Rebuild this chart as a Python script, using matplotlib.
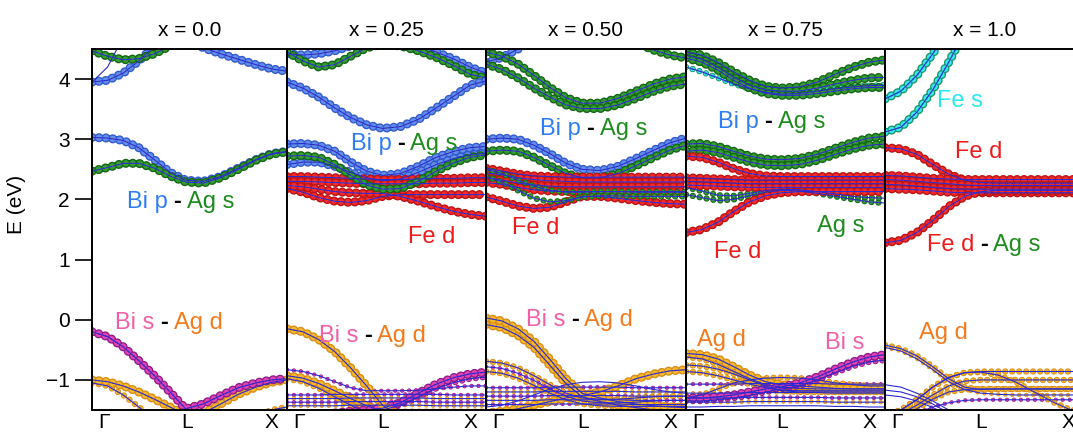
import matplotlib
matplotlib.use('Agg')
import matplotlib.pyplot as plt

plt.rcParams['font.family'] = ['Liberation Sans', 'DejaVu Sans']
plt.rcParams['font.size'] = 15
plt.rcParams['lines.scale_dashes'] = False

# ---------------- data ----------------
TITLES = ["x = 0.0", "x = 0.25", "x = 0.50", "x = 0.75", "x = 1.0"]
K = [0.00, 0.08, 0.16, 0.24, 0.32, 0.40, 0.48, 0.57, 0.66, 0.75, 0.84, 0.92, 1.00]
KPOINT_POS = [0.06, 0.485, 0.92]
KPOINT_LABELS = ["Γ", "L", "X"]
E_TICKS = [-1, 0, 1, 2, 3, 4]

# (orbital, projected weight, energies in eV at K)
BANDS_X000 = [
    ("Bi p", 0.0, [3.95, 4.20, 4.70, 5.30, 5.90, 6.50, 7.00, 7.00, 7.00, 7.00, 7.00, 7.00, 7.00]),
    ("Bi p", 1.0, [3.95, 3.98, 4.10, 4.30, 4.55, 4.80, 4.70, 4.52, 4.42, 4.33, 4.24, 4.17, 4.13]),
    ("Ag s", 1.0, [4.47, 4.38, 4.32, 4.34, 4.42, 4.55, 4.70, 4.80, 4.80, 4.75, 4.70, 4.65, 4.62]),
    ("Bi p", 1.0, [3.03, 3.02, 2.98, 2.86, 2.66, 2.45, 2.32, 2.30, 2.38, 2.52, 2.66, 2.76, 2.80]),
    ("Ag s", 1.0, [2.47, 2.53, 2.60, 2.60, 2.52, 2.39, 2.29, 2.27, 2.36, 2.50, 2.65, 2.75, 2.79]),
    ("Ag d", 0.6, [-1.05, -1.10, -1.25, -1.45, -1.65, -1.85, -2.00, -2.00, -1.90, -1.75, -1.60, -1.50, -1.45]),
    ("Ag d", 1.0, [-1.00, -1.03, -1.10, -1.20, -1.32, -1.45, -1.58, -1.55, -1.40, -1.24, -1.12, -1.04, -1.00]),
    ("Bi s", 1.0, [-0.20, -0.28, -0.45, -0.68, -0.93, -1.20, -1.48, -1.40, -1.26, -1.13, -1.05, -1.00, -0.98]),
]

BANDS_X025 = [
    ("Bi p", 1.0, [4.42, 4.40, 4.42, 4.47, 4.55, 4.62, 4.65, 4.62, 4.55, 4.45, 4.33, 4.20, 4.10]),
    ("Ag s", 1.0, [4.45, 4.30, 4.20, 4.24, 4.38, 4.52, 4.58, 4.55, 4.47, 4.36, 4.22, 4.08, 4.02]),
    ("Bi p", 1.0, [3.95, 3.85, 3.70, 3.52, 3.36, 3.24, 3.18, 3.21, 3.33, 3.52, 3.72, 3.90, 3.97]),
    ("Bi p", 1.0, [2.92, 2.93, 2.90, 2.80, 2.62, 2.47, 2.40, 2.43, 2.55, 2.70, 2.80, 2.86, 2.88]),
    ("Bi p", 1.0, [2.58, 2.62, 2.62, 2.55, 2.45, 2.36, 2.31, 2.34, 2.45, 2.58, 2.68, 2.74, 2.77]),
    ("Fe d", 1.0, [2.38, 2.38, 2.37, 2.36, 2.35, 2.34, 2.33, 2.33, 2.34, 2.35, 2.35, 2.36, 2.36]),
    ("Fe d", 1.0, [2.30, 2.30, 2.29, 2.28, 2.27, 2.26, 2.26, 2.26, 2.26, 2.27, 2.27, 2.28, 2.28]),
    ("Fe d", 1.0, [2.18, 2.12, 2.03, 1.97, 1.95, 1.98, 2.05, 2.08, 2.08, 2.08, 2.08, 2.08, 2.08]),
    ("Fe d", 1.0, [2.23, 2.21, 2.17, 2.13, 2.11, 2.10, 2.10, 2.05, 1.97, 1.88, 1.80, 1.75, 1.72]),
    ("Ag s", 1.0, [2.72, 2.73, 2.70, 2.58, 2.40, 2.24, 2.17, 2.18, 2.30, 2.47, 2.61, 2.70, 2.74]),
    ("Bi s", 0.3, [-1.25, -1.25, -1.25, -1.24, -1.24, -1.24, -1.24, -1.24, -1.24, -1.24, -1.25, -1.25, -1.25]),
    ("Ag d", 0.3, [-1.31, -1.31, -1.31, -1.31, -1.30, -1.30, -1.30, -1.30, -1.30, -1.31, -1.31, -1.31, -1.31]),
    ("Bi s", 0.3, [-1.37, -1.37, -1.37, -1.37, -1.36, -1.36, -1.36, -1.36, -1.36, -1.37, -1.37, -1.37, -1.37]),
    ("Ag d", 0.3, [-1.43, -1.43, -1.43, -1.43, -1.42, -1.42, -1.42, -1.42, -1.42, -1.43, -1.43, -1.43, -1.43]),
    ("Bi s", 0.3, [-0.83, -0.86, -0.93, -1.03, -1.13, -1.18, -1.18, -1.18, -1.17, -1.15, -1.12, -1.10, -1.10]),
    ("Ag d", 0.6, [-0.98, -1.03, -1.14, -1.28, -1.42, -1.55, -1.62, -1.62, -1.62, -1.62, -1.62, -1.62, -1.62]),
    ("Ag d", 1.0, [-0.93, -0.97, -1.06, -1.18, -1.31, -1.43, -1.52, -1.55, -1.55, -1.55, -1.55, -1.55, -1.55]),
    ("Bi s", 0.6, [-1.60, -1.60, -1.58, -1.56, -1.54, -1.52, -1.50, -1.42, -1.28, -1.14, -1.04, -0.98, -0.95]),
    ("Bi s", 1.0, [-1.60, -1.60, -1.58, -1.55, -1.52, -1.50, -1.47, -1.38, -1.22, -1.07, -0.96, -0.90, -0.87]),
    ("Ag d", 1.0, [-0.15, -0.20, -0.33, -0.53, -0.80, -1.10, -1.42, -1.60, -1.70, -1.70, -1.70, -1.70, -1.70]),
]

BANDS_X050 = [
    ("Bi p", 1.0, [4.28, 4.36, 4.50, 4.68, 4.85, 5.00, 5.10, 5.10, 5.10, 5.10, 5.10, 5.10, 5.10]),
    ("Ag s", 1.0, [5.00, 5.00, 5.00, 5.00, 5.00, 5.00, 4.95, 4.85, 4.72, 4.60, 4.48, 4.40, 4.35]),
    ("Ag s", 1.0, [4.45, 4.38, 4.25, 4.06, 3.86, 3.69, 3.60, 3.60, 3.68, 3.80, 3.92, 4.00, 4.04]),
    ("Ag s", 1.0, [4.25, 4.16, 4.02, 3.85, 3.70, 3.57, 3.51, 3.51, 3.57, 3.68, 3.80, 3.88, 3.92]),
    ("Bi p", 1.0, [3.00, 3.02, 3.00, 2.90, 2.76, 2.60, 2.50, 2.48, 2.55, 2.68, 2.82, 2.94, 3.02]),
    ("Ag s", 1.0, [2.80, 2.82, 2.80, 2.70, 2.56, 2.43, 2.36, 2.36, 2.43, 2.56, 2.70, 2.82, 2.90]),
    ("Fe d", 1.0, [2.52, 2.47, 2.42, 2.39, 2.38, 2.37, 2.37, 2.37, 2.37, 2.37, 2.37, 2.37, 2.37]),
    ("Fe d", 1.0, [2.44, 2.41, 2.36, 2.33, 2.31, 2.30, 2.29, 2.29, 2.29, 2.29, 2.29, 2.29, 2.29]),
    ("Fe d", 1.0, [2.36, 2.32, 2.27, 2.24, 2.22, 2.21, 2.21, 2.21, 2.21, 2.21, 2.21, 2.21, 2.21]),
    ("Fe d", 1.0, [2.28, 2.25, 2.20, 2.16, 2.14, 2.13, 2.13, 2.13, 2.13, 2.13, 2.13, 2.13, 2.13]),
    ("Fe d", 1.0, [2.04, 1.97, 1.89, 1.85, 1.87, 1.96, 2.05, 2.05, 2.02, 1.98, 1.95, 1.93, 1.92]),
    ("Ag s", 0.6, [2.50, 2.43, 2.32, 2.22, 2.15, 2.12, 2.12, 2.13, 2.13, 2.12, 2.12, 2.12, 2.12]),
    ("Ag s", 0.6, [2.38, 2.29, 2.15, 2.02, 1.96, 1.98, 2.04, 2.06, 2.06, 2.05, 2.05, 2.05, 2.05]),
    ("Bi s", 0.3, [-1.13, -1.13, -1.13, -1.13, -1.12, -1.12, -1.12, -1.12, -1.12, -1.13, -1.13, -1.13, -1.13]),
    ("Ag d", 0.3, [-1.20, -1.20, -1.20, -1.20, -1.19, -1.19, -1.19, -1.19, -1.19, -1.20, -1.20, -1.20, -1.20]),
    ("Bi s", 0.3, [-1.27, -1.27, -1.27, -1.27, -1.26, -1.26, -1.26, -1.26, -1.26, -1.27, -1.27, -1.27, -1.27]),
    ("Ag d", 0.3, [-1.34, -1.34, -1.34, -1.34, -1.33, -1.33, -1.33, -1.33, -1.33, -1.34, -1.34, -1.34, -1.34]),
    ("Bi s", 0.3, [-1.41, -1.41, -1.41, -1.41, -1.40, -1.40, -1.40, -1.40, -1.40, -1.41, -1.41, -1.41, -1.41]),
    ("Bi p", 0.0, [-1.45, -1.42, -1.35, -1.25, -1.15, -1.08, -1.04, -1.03, -1.05, -1.10, -1.16, -1.20, -1.22]),
    ("Ag d", 0.6, [-0.69, -0.72, -0.80, -0.93, -1.08, -1.22, -1.30, -1.32, -1.32, -1.30, -1.28, -1.27, -1.27]),
    ("Bi s", 0.3, [-0.78, -0.81, -0.89, -1.01, -1.15, -1.27, -1.35, -1.38, -1.38, -1.37, -1.35, -1.34, -1.34]),
    ("Ag d", 0.6, [-0.86, -0.89, -0.97, -1.09, -1.22, -1.33, -1.40, -1.43, -1.44, -1.44, -1.44, -1.44, -1.44]),
    ("Ag d", 1.0, [-1.55, -1.52, -1.48, -1.42, -1.36, -1.30, -1.26, -1.20, -1.10, -0.98, -0.90, -0.85, -0.83]),
    ("Ag d", 1.0, [-0.08, -0.13, -0.26, -0.46, -0.76, -1.06, -1.28, -1.36, -1.42, -1.46, -1.50, -1.52, -1.53]),
    ("Ag d", 1.0, [0.03, -0.02, -0.15, -0.36, -0.66, -0.98, -1.22, -1.30, -1.36, -1.40, -1.43, -1.45, -1.46]),
]

BANDS_X075 = [
    ("Ag s", 1.0, [4.45, 4.40, 4.28, 4.12, 3.98, 3.88, 3.85, 3.87, 3.95, 4.08, 4.20, 4.28, 4.32]),
    ("Ag s", 1.0, [4.40, 4.33, 4.20, 4.03, 3.90, 3.82, 3.80, 3.80, 3.85, 3.92, 3.98, 4.02, 4.03]),
    ("Fe s", 0.6, [4.20, 4.12, 4.02, 3.92, 3.84, 3.78, 3.75, 3.76, 3.80, 3.84, 3.87, 3.89, 3.90]),
    ("Ag s", 1.0, [4.35, 4.28, 4.15, 3.98, 3.85, 3.76, 3.73, 3.73, 3.76, 3.80, 3.84, 3.86, 3.86]),
    ("Ag s", 1.0, [2.92, 2.93, 2.88, 2.80, 2.72, 2.67, 2.66, 2.68, 2.75, 2.85, 2.95, 3.02, 3.05]),
    ("Ag s", 1.0, [2.80, 2.82, 2.78, 2.70, 2.62, 2.57, 2.56, 2.58, 2.65, 2.75, 2.84, 2.90, 2.92]),
    ("Ag s", 0.6, [2.08, 2.03, 1.98, 2.00, 2.06, 2.12, 2.15, 2.14, 2.10, 2.05, 2.00, 1.96, 1.94]),
    ("Ag s", 0.6, [2.20, 2.14, 2.07, 2.06, 2.10, 2.15, 2.17, 2.16, 2.13, 2.09, 2.05, 2.03, 2.02]),
    ("Fe d", 1.0, [2.72, 2.70, 2.62, 2.51, 2.43, 2.39, 2.38, 2.38, 2.38, 2.38, 2.38, 2.38, 2.38]),
    ("Fe d", 1.0, [2.36, 2.35, 2.34, 2.33, 2.32, 2.32, 2.32, 2.32, 2.32, 2.32, 2.32, 2.32, 2.32]),
    ("Fe d", 1.0, [2.30, 2.29, 2.28, 2.27, 2.26, 2.26, 2.26, 2.26, 2.26, 2.26, 2.26, 2.26, 2.26]),
    ("Fe d", 1.0, [2.24, 2.23, 2.22, 2.21, 2.20, 2.20, 2.20, 2.20, 2.20, 2.20, 2.20, 2.20, 2.20]),
    ("Fe d", 1.0, [1.45, 1.50, 1.62, 1.80, 1.96, 2.06, 2.11, 2.13, 2.13, 2.13, 2.13, 2.13, 2.13]),
    ("Bi s", 0.3, [-1.07, -1.07, -1.07, -1.07, -1.06, -1.06, -1.06, -1.06, -1.06, -1.07, -1.07, -1.07, -1.07]),
    ("Ag d", 0.3, [-1.22, -1.22, -1.22, -1.22, -1.21, -1.21, -1.21, -1.21, -1.21, -1.22, -1.22, -1.22, -1.22]),
    ("Bi s", 0.3, [-1.30, -1.30, -1.30, -1.30, -1.29, -1.29, -1.29, -1.29, -1.29, -1.30, -1.30, -1.30, -1.30]),
    ("Ag d", 0.3, [-1.37, -1.37, -1.37, -1.37, -1.36, -1.36, -1.36, -1.36, -1.36, -1.37, -1.37, -1.37, -1.37]),
    ("Bi p", 0.0, [-1.45, -1.45, -1.44, -1.44, -1.43, -1.43, -1.43, -1.43, -1.43, -1.44, -1.44, -1.45, -1.45]),
    ("Ag d", 0.6, [-1.30, -1.25, -1.15, -1.05, -1.00, -0.97, -0.96, -0.97, -1.00, -1.05, -1.08, -1.10, -1.10]),
    ("Ag d", 0.6, [-0.86, -0.88, -0.93, -1.00, -1.07, -1.13, -1.17, -1.18, -1.18, -1.18, -1.18, -1.18, -1.18]),
    ("Ag d", 0.6, [-0.75, -0.77, -0.82, -0.90, -1.00, -1.10, -1.18, -1.20, -1.20, -1.20, -1.20, -1.20, -1.20]),
    ("Ag d", 0.6, [-0.62, -0.65, -0.74, -0.86, -0.98, -1.08, -1.12, -1.14, -1.15, -1.15, -1.15, -1.15, -1.15]),
    ("Ag d", 1.0, [-0.56, -0.58, -0.65, -0.78, -0.92, -1.03, -1.08, -1.10, -1.12, -1.14, -1.15, -1.15, -1.15]),
    ("Bi s", 0.6, [-1.35, -1.35, -1.33, -1.30, -1.26, -1.20, -1.15, -1.10, -1.00, -0.88, -0.77, -0.70, -0.67]),
    ("Bi s", 1.0, [-1.30, -1.30, -1.28, -1.25, -1.20, -1.15, -1.12, -1.05, -0.95, -0.82, -0.70, -0.62, -0.58]),
]

BANDS_X100 = [
    ("Fe s", 1.0, [3.67, 3.80, 4.06, 4.42, 4.85, 5.30, 5.80, 6.30, 6.80, 7.20, 7.60, 8.00, 8.20]),
    ("Fe s", 1.0, [3.12, 3.20, 3.45, 3.82, 4.28, 4.78, 5.30, 5.80, 6.30, 6.80, 7.20, 7.60, 8.00]),
    ("Fe d", 1.0, [2.86, 2.84, 2.75, 2.58, 2.42, 2.32, 2.28, 2.27, 2.27, 2.27, 2.27, 2.27, 2.27]),
    ("Fe d", 1.0, [2.40, 2.39, 2.37, 2.35, 2.34, 2.33, 2.33, 2.33, 2.33, 2.33, 2.33, 2.33, 2.33]),
    ("Fe d", 1.0, [2.33, 2.32, 2.30, 2.28, 2.26, 2.24, 2.23, 2.23, 2.23, 2.23, 2.23, 2.23, 2.23]),
    ("Fe d", 1.0, [2.25, 2.24, 2.22, 2.20, 2.18, 2.17, 2.17, 2.17, 2.17, 2.17, 2.17, 2.17, 2.17]),
    ("Fe d", 1.0, [2.18, 2.17, 2.16, 2.14, 2.12, 2.11, 2.11, 2.11, 2.11, 2.11, 2.11, 2.11, 2.11]),
    ("Fe d", 1.0, [1.28, 1.32, 1.45, 1.65, 1.88, 2.05, 2.13, 2.15, 2.15, 2.15, 2.15, 2.15, 2.15]),
    ("Bi p", 0.0, [-1.08, -1.12, -1.22, -1.35, -1.50, -1.62, -1.70, -1.70, -1.70, -1.70, -1.70, -1.70, -1.70]),
    ("Bi p", 0.0, [-1.17, -1.20, -1.28, -1.40, -1.55, -1.65, -1.70, -1.70, -1.70, -1.70, -1.70, -1.70, -1.70]),
    ("Bi p", 0.0, [-1.25, -1.28, -1.35, -1.46, -1.58, -1.68, -1.70, -1.70, -1.70, -1.70, -1.70, -1.70, -1.70]),
    ("Bi s", 0.3, [-1.70, -1.65, -1.55, -1.45, -1.38, -1.34, -1.33, -1.33, -1.33, -1.33, -1.33, -1.33, -1.33]),
    ("Ag d", 0.6, [-1.70, -1.62, -1.48, -1.32, -1.20, -1.16, -1.15, -1.15, -1.15, -1.15, -1.15, -1.15, -1.15]),
    ("Ag d", 0.6, [-1.65, -1.56, -1.42, -1.25, -1.10, -1.02, -1.00, -1.00, -1.00, -1.00, -1.00, -1.00, -1.00]),
    ("Ag d", 0.6, [-1.60, -1.50, -1.33, -1.12, -0.96, -0.88, -0.87, -0.92, -1.04, -1.20, -1.36, -1.48, -1.55]),
    ("Ag d", 0.6, [-1.60, -1.50, -1.33, -1.12, -0.96, -0.88, -0.86, -0.86, -0.86, -0.86, -0.86, -0.86, -0.86]),
    ("Ag d", 0.3, [-0.46, -0.52, -0.65, -0.83, -1.03, -1.16, -1.22, -1.24, -1.25, -1.25, -1.25, -1.25, -1.25]),
    ("Ag d", 0.6, [-0.42, -0.48, -0.60, -0.78, -0.98, -1.12, -1.16, -1.15, -1.15, -1.15, -1.15, -1.15, -1.15]),
]

PANEL_BANDS = [BANDS_X000, BANDS_X025, BANDS_X050, BANDS_X075, BANDS_X100]

# (panel, k, E, parts)
LABELS = [
    (0, 0.18, 1.95, ["Bi p", "-", "Ag s"]),
    (0, 0.12, -0.05, ["Bi s", "-", "Ag d"]),
    (1, 0.32, 2.92, ["Bi p", "-", "Ag s"]),
    (1, 0.61, 1.38, ["Fe d"]),
    (1, 0.16, -0.27, ["Bi s", "-", "Ag d"]),
    (2, 0.27, 3.17, ["Bi p", "-", "Ag s"]),
    (2, 0.13, 1.53, ["Fe d"]),
    (2, 0.20, 0.00, ["Bi s", "-", "Ag d"]),
    (3, 0.16, 3.28, ["Bi p", "-", "Ag s"]),
    (3, 0.66, 1.55, ["Ag s"]),
    (3, 0.14, 1.13, ["Fe d"]),
    (3, 0.055, -0.33, ["Ag d"]),
    (3, 0.70, -0.38, ["Bi s"]),
    (4, 0.26, 3.63, ["Fe s"]),
    (4, 0.35, 2.78, ["Fe d"]),
    (4, 0.21, 1.25, ["Fe d", "-", "Ag s"]),
    (4, 0.17, -0.22, ["Ag d"]),
]

# ---------------- styles ----------------
FILL = {'Bi p': '#5f8ff2', 'Ag s': '#2e9e2e', 'Fe d': '#f42828',
        'Bi s': '#e244b4', 'Ag d': '#f7b92e', 'Fe s': '#3ae8ec'}
EDGE = {'Bi p': '#3558c8', 'Ag s': '#176417', 'Fe d': '#b81414',
        'Bi s': '#8e1c88', 'Ag d': '#d88c14', 'Fe s': '#1a9468'}
DOT = {'Bi p': '#c9a24a', 'Ag s': '#c9a24a', 'Fe d': '#e88080',
       'Bi s': '#7a2aa0', 'Ag d': '#c98a20', 'Fe s': '#2aa0a0'}
TXT = {'Bi p': '#2f7df2', 'Ag s': '#1d8c1d', 'Fe d': '#ec1c1c',
       'Bi s': '#f060a8', 'Ag d': '#f47a1c', 'Fe s': '#2ae8f2', '-': 'black'}
LINE_COLOR = '#2a2ad0'
BEAD = (0, (0.01, 5.0))

W, H = 1073, 434
lefts = [92, 287, 486, 686, 885]
rights = [287, 486, 686, 885, 1084]
top, bottom = 49, 410

fig = plt.figure(figsize=(W / 100, H / 100), dpi=100)

axes = []
for i in range(5):
    ax = fig.add_axes([lefts[i] / W, (H - bottom) / H,
                       (rights[i] - lefts[i]) / W, (bottom - top) / H])
    bands = PANEL_BANDS[i]
    # beads: dark ring, lighter fill, small centre dot
    for orb, w, en in bands:
        if w <= 0:
            continue
        size = 1.6 + 5.0 * w
        ax.plot(K, en, color=EDGE[orb], lw=size, ls=BEAD, dash_capstyle='round')
        ax.plot(K, en, color=FILL[orb], lw=size - 1.6 * w - 0.3, ls=BEAD, dash_capstyle='round')
        if w >= 0.6:
            ax.plot(K, en, color=DOT[orb], lw=1.3, ls=BEAD, dash_capstyle='round')
    # thin band lines on top
    for orb, w, en in bands:
        ax.plot(K, en, color=LINE_COLOR, lw=0.8)

    ax.set_xlim(0, 1)
    ax.set_ylim(-1.5, 4.5)
    ax.set_title(TITLES[i], fontsize=15, pad=9)
    ax.set_xticks(KPOINT_POS)
    ax.set_xticklabels(KPOINT_LABELS)
    ax.tick_params(axis='x', length=0, pad=2, labelsize=15)
    if i == 0:
        ax.set_yticks(E_TICKS)
        ax.tick_params(axis='y', direction='out', length=12, width=1.2, pad=4, labelsize=15)
        ax.set_ylabel("E (eV)", fontsize=15)
        ax.yaxis.set_label_coords(-0.34, 0.57)
    else:
        ax.set_yticks([])
    for sp in ax.spines.values():
        sp.set_linewidth(1.4)
        sp.set_color('black')
    axes.append(ax)

# multi-coloured orbital labels
for i, k, e, parts in LABELS:
    ax = axes[i]
    t = ax.text(k, e, parts[0], color=TXT.get(parts[0], 'black'), fontsize=17,
                ha='left', va='center')
    for p in parts[1:]:
        t = ax.annotate(p, xy=(1, 0), xycoords=t, xytext=(4, 0), textcoords='offset points',
                        color=TXT.get(p, 'black'), fontsize=17, ha='left', va='bottom',
                        fontweight='bold' if p == '-' else 'normal')

fig.savefig('out.png', dpi=100)
